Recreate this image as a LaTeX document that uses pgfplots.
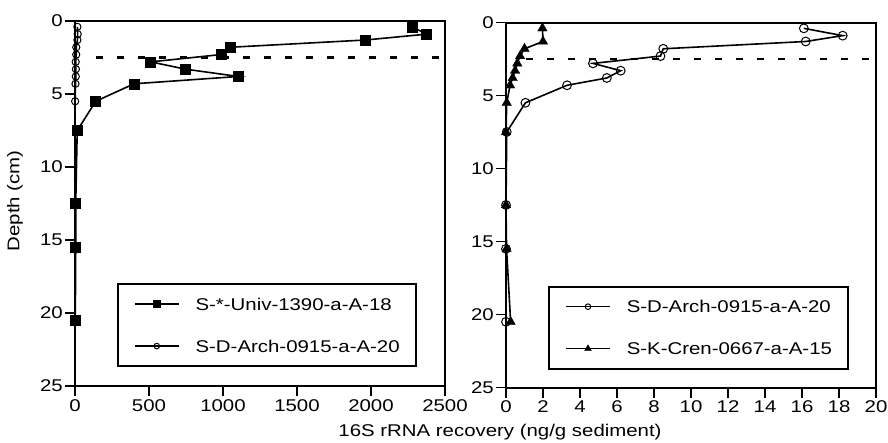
\documentclass[border=0pt]{standalone}
\usepackage{pgfplots}
\pgfplotsset{compat=1.18}
\usepackage{fontspec}
\setmainfont{Liberation Sans}[FakeStretch=1.2]
\newcommand{\fs}{\fontsize{17}{20}\selectfont}
\pgfplotsset{
 mystyle/.style={
  scale only axis, width=370pt, height=365pt,
  y dir=reverse, ymin=0, ymax=25, ytick={0,5,...,25},
  axis line style={line width=2pt},
  every tick/.style={line width=1.8pt, black},
  tick align=outside, major tick length=10pt,
  xtick pos=lower, ytick pos=left,
  tick label style={font=\fs},
  yticklabel style={inner xsep=2pt},
  /pgf/number format/assume math mode=true,
  /pgf/number format/1000 sep={},
  legend style={draw, line width=2pt, font=\fs, anchor=north west,
    nodes={inner sep=0pt, text height=12.4pt, text depth=0pt},
    /tikz/every odd column/.append style={column sep=16pt},
    row sep=29.6pt, inner xsep=16pt, inner ysep=13.8pt, cells={anchor=west}},
  legend image code/.code={\draw[mark repeat=2,mark phase=2,##1] plot coordinates {(0pt,0pt)(22pt,0pt)(44pt,0pt)};},
 },
 sq/.style={black, line width=1.6pt, mark=square*, mark size=5pt, mark options={solid, line width=0.5pt},
   legend image post style={mark size=3.6pt}},
 ci/.style={black, line width=1.6pt, mark=o, mark size=4.4pt, mark options={solid, fill=white, line width=1pt},
   legend image post style={mark size=2.8pt}},
 tr/.style={black, line width=1.6pt, mark=triangle*, mark size=5.5pt, mark options={solid, line width=0.3pt},
   legend image post style={mark size=4pt}},
 dsh/.style={black, line width=2.2pt, dash pattern=on 7pt off 14pt, forget plot},
}
\begin{document}
\begin{tikzpicture}
\useasboundingbox (-75pt,-56pt) rectangle (813pt,386pt);
\begin{axis}[mystyle, at={(0pt,0pt)}, anchor=south west,
  xmin=0, xmax=2500, xtick={0,500,...,2500},
  ylabel={Depth (cm)}, ylabel style={font=\fs, at={(axis description cs:-0.162,0.507)}, anchor=center},
  legend style={at={(axis description cs:0.1135,0.282)}}]
\addplot[sq] coordinates {(2277,0.4)(2376,0.9)(1964,1.3)(1047,1.8)(986,2.3)(511,2.8)(748,3.3)(1103,3.8)(399,4.3)(140,5.5)(15,7.5)(5,12.5)(5,15.5)(2,20.5)};
\addlegendentry{S-*-Univ-1390-a-A-18}
\addplot[ci, mark size=3.6pt] coordinates {(16.1,0.4)(18.2,0.9)(16.2,1.3)(8.5,1.8)(8.35,2.3)(4.7,2.8)(6.2,3.3)(5.45,3.8)(3.3,4.3)(1.05,5.5)};
\addlegendentry{S-D-Arch-0915-a-A-20}
\addplot[dsh] coordinates {(142,2.5)(2500,2.5)};
\end{axis}
\begin{axis}[mystyle, at={(431pt,-1.5pt)}, anchor=south west,
  xmin=0, xmax=20, xtick={0,2,...,20},
  legend style={at={(axis description cs:0.114,0.279)}}]
\addplot[ci] coordinates {(16.1,0.4)(18.2,0.9)(16.2,1.3)(8.5,1.8)(8.35,2.3)(4.7,2.8)(6.2,3.3)(5.45,3.8)(3.3,4.3)(1.05,5.5)(0.04,7.5)(0,12.5)(0,15.5)(0,20.5)};
\addlegendentry{S-D-Arch-0915-a-A-20}
\addplot[tr] coordinates {(1.97,0.4)(2.0,1.3)(1.0,1.8)(0.76,2.3)(0.61,2.8)(0.49,3.3)(0.36,3.8)(0.22,4.3)(0.04,5.5)(0,7.5)(0,12.5)(0.03,15.5)(0.25,20.5)};
\addlegendentry{S-K-Cren-0667-a-A-15}
\addplot[dsh] coordinates {(1.1,2.5)(20,2.5)};
\end{axis}
\node[font=\fs] at (425pt,-46pt) {16S rRNA recovery (ng/g sediment)};
\end{tikzpicture}
\end{document}
